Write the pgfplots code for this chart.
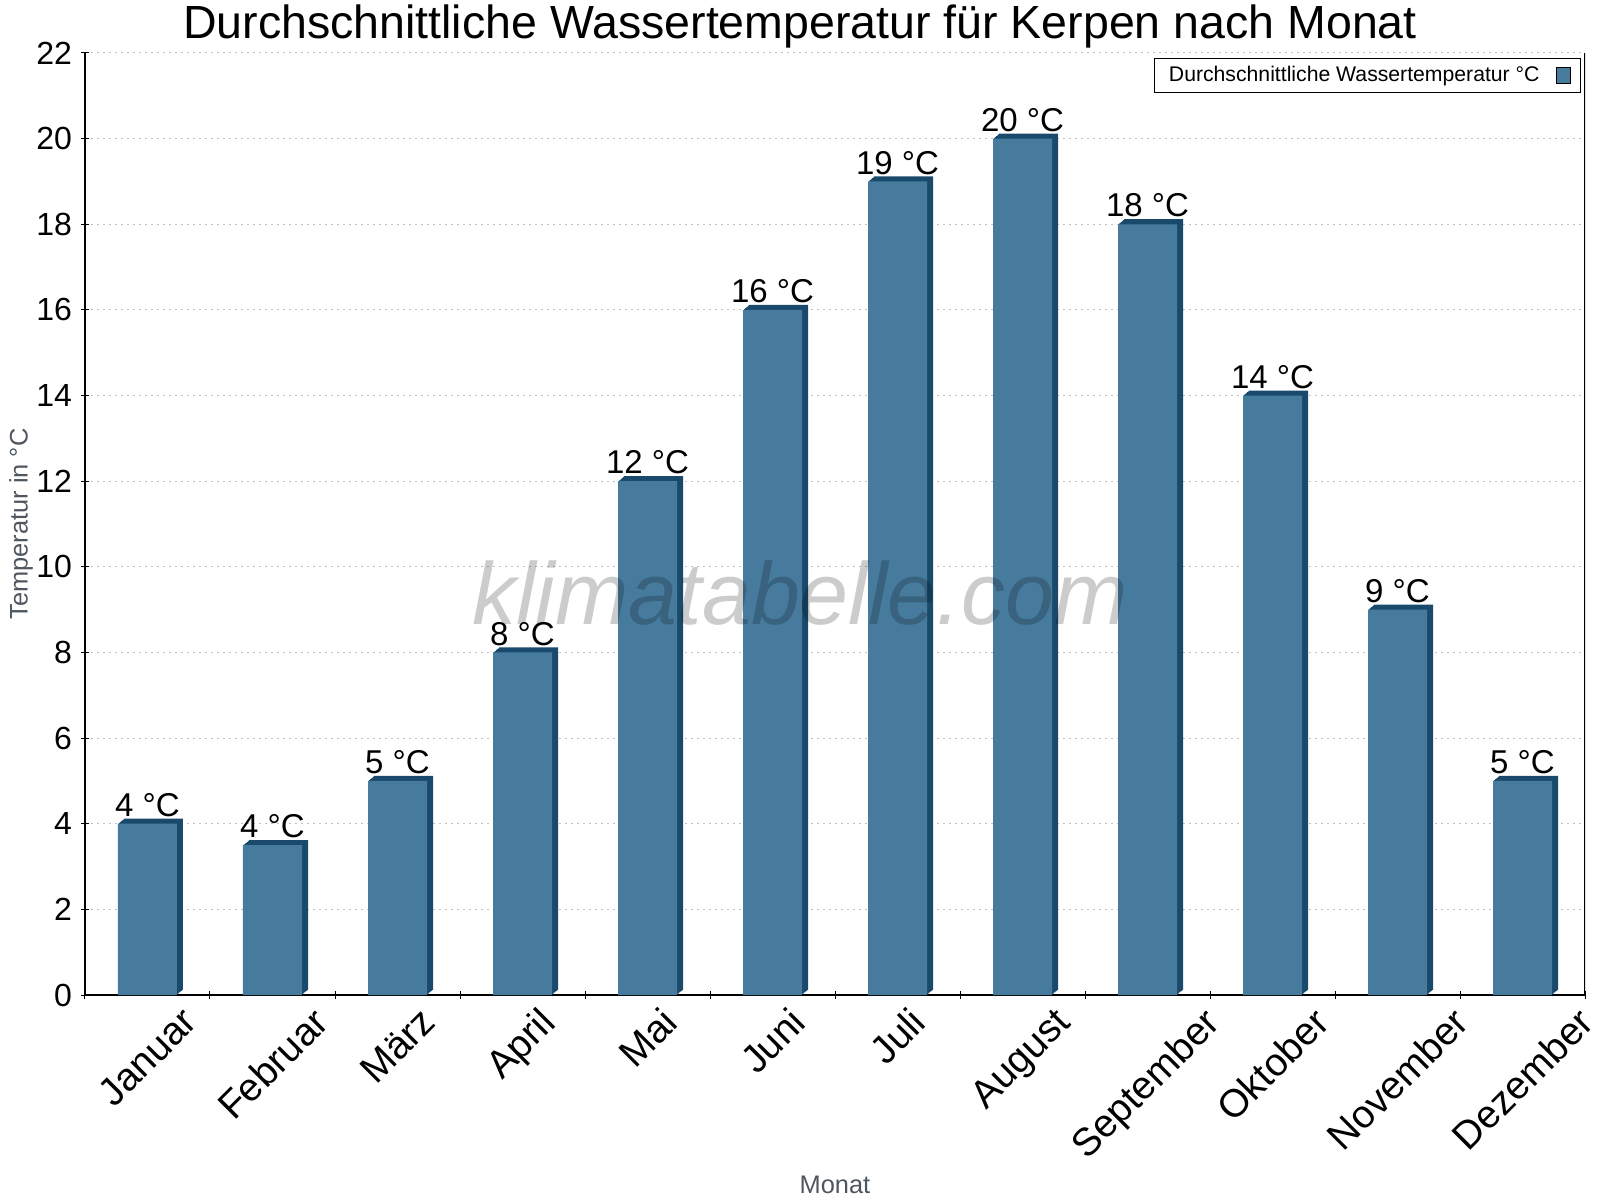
\documentclass[border=0pt]{standalone}
\usepackage{graphicx}
\usepackage{pgfplots}
\usepackage{pgfplotstable}
\pgfplotsset{compat=1.18}
\usepackage{fontspec}
\setmainfont{Liberation Sans}

\definecolor{barfront}{RGB}{70,123,157}
\definecolor{bardark}{RGB}{26,74,107}
\definecolor{labgray}{RGB}{78,86,96}

\newcommand{\rl}[1]{\rotatebox{45}{#1}}

% Monat, Wassertemperatur (Feb. liegt bei 3.5, beschriftet mit 4)
\pgfplotstableread{
m t lab
1 4 4
2 3.5 4
3 5 5
4 8 8
5 12 12
6 16 16
7 19 19
8 20 20
9 18 18
10 14 14
11 9 9
12 5 5
}\wasser

\begin{document}
\begin{tikzpicture}
\path[use as bounding box] (-42.5pt,-102.5pt) rectangle (757.5pt,497.5pt);
\begin{axis}[
  scale only axis, width=750pt, height=471pt,
  at={(0pt,0pt)}, anchor=south west,
  xmin=0.5, xmax=12.5, ymin=0, ymax=22,
  axis lines=left,
  axis line style={-, line width=0.6pt},
  tick align=center,
  major tick length=4pt,
  tick style={black, line width=0.5pt},
  xtick={0.5,1.5,...,12.5},
  xticklabels={},
  extra x ticks={1,2,...,12},
  extra x tick labels={\rl{Januar},\rl{Februar},\rl{März},\rl{April},\rl{Mai},\rl{Juni},\rl{Juli},\rl{August},\rl{September},\rl{Oktober},\rl{November},\rl{Dezember}},
  extra x tick style={major tick length=0pt, grid=none,
    xticklabel style={font=\fontsize{19.5}{20}\selectfont, inner sep=0pt, anchor=north, yshift=-5pt}},
  ytick={0,2,...,22},
  ymajorgrids,
  grid style={draw=black!25, line width=0.5pt, dash pattern=on 1pt off 2pt},
  tick label style={font=\fontsize{16}{16}\selectfont},
  /pgf/number format/assume math mode=true,
  yticklabel style={xshift=-1pt},
  title={Durchschnittliche Wassertemperatur für Kerpen nach Monat},
  title style={font=\fontsize{23.25}{24}\selectfont, at={(axis description cs:0.4767,1)}, anchor=base, yshift=1pt, inner sep=0pt},
  ylabel={Temperatur in °C},
  ylabel style={font=\fontsize{12.7}{13}\selectfont, text=labgray, at={(axis description cs:-0.04267,0.5)}, anchor=center, inner sep=0pt},
  xlabel={Monat},
  xlabel style={font=\fontsize{12.7}{13}\selectfont, text=labgray, at={(axis description cs:0.5,0)}, anchor=base, yshift=-99pt, inner sep=0pt},
  legend plot pos=right,
  legend cell align=left,
  legend style={at={(rel axis cs:1,1)}, anchor=north east, xshift=-2pt, yshift=-2.5pt,
    draw=black, line width=0.5pt, font=\fontsize{10.6}{12}\selectfont,
    inner xsep=5pt, inner ysep=2pt, column sep=6pt},
]
\pgfplotsinvokeforeach{1,2,3,4,5,6}{
  \addplot[ybar, bar width=29.5pt, bar shift=0pt, fill=bardark, draw=none, forget plot,
    xshift=#1*0.5pt, yshift=#1*0.42pt] table[x=m, y=t] {\wasser};
}
\addplot[ybar, bar width=29.5pt, bar shift=0pt, fill=barfront, draw=none,
  point meta=explicit symbolic,
  nodes near coords={\pgfplotspointmeta~°C},
  every node near coord/.append style={font=\fontsize{16.5}{17}\selectfont, text=black},
  legend image code/.code={\draw[fill=barfront, draw=black, line width=0.5pt] (0pt,-4pt) rectangle (7pt,4pt);}]
  table[x=m, y=t, meta=lab] {\wasser};
\addlegendentry{Durchschnittliche Wassertemperatur °C}
\draw[line width=0.6pt] (rel axis cs:1,0) -- (rel axis cs:1,1);
\node[font=\itshape\fontsize{44}{44}\selectfont, text=black, text opacity=0.2, anchor=base]
  at (rel axis cs:0.4767,0.3938) {klimatabelle.com};
\end{axis}
\end{tikzpicture}
\end{document}
